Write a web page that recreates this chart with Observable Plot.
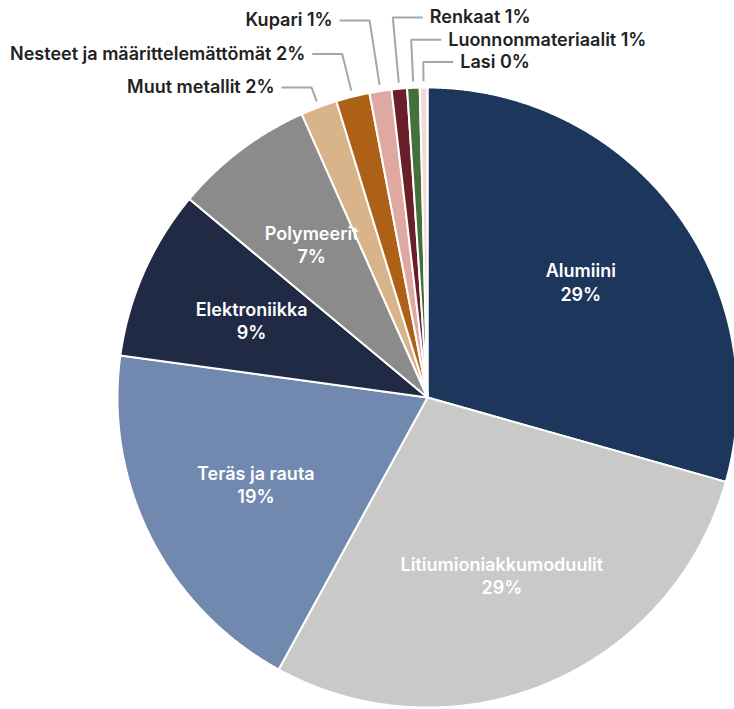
<!DOCTYPE html>
<html><head><meta charset="utf-8">
<script src="https://cdn.jsdelivr.net/npm/d3@7"></script>
<script src="https://cdn.jsdelivr.net/npm/@observablehq/plot@0.6"></script>
<style>html,body{margin:0;padding:0;background:#fff;overflow:hidden}#chart svg{display:block}</style>
</head><body><div id="chart"></div>
<script>
// ---- data ----
const categories = ["Alumiini", "Litiumioniakkumoduulit", "Teräs ja rauta", "Elektroniikka", "Polymeerit",
  "Muut metallit", "Nesteet ja määrittelemättömät", "Kupari", "Renkaat", "Luonnonmateriaalit", "Lasi"];
const values = [29.4, 28.6, 19.2, 8.9, 7.3, 1.9, 1.75, 1.15, 0.8, 0.65, 0.4];
const colors = ["#1d365b", "#c9c9c7", "#7189ae", "#212a45", "#8b8b8b",
  "#d9b48b", "#ad6117", "#dfa8a0", "#6a1e2a", "#44703c", "#f1d9d5"];

// ---- layout ----
const W = 734, H = 709, R = 310, CX = 427, CY = 397;
const FONT = "Inter, 'Noto Sans', sans-serif";
const FS = 18;

const arcs = d3.pie().sort(null).value(d => d.value).startAngle(0).endAngle(2 * Math.PI)(
  categories.map((c, i) => ({cat: c, value: values[i]}))
);
const pt = (a, r) => [r * Math.sin(a), r * Math.cos(a)];

// slice polygons (unit radius)
const sliceRows = [];
arcs.forEach(a => {
  sliceRows.push({cat: a.data.cat, x: 0, y: 0});
  const n = Math.max(2, Math.ceil((a.endAngle - a.startAngle) / 0.005));
  for (let k = 0; k <= n; k++) {
    const t = a.startAngle + (a.endAngle - a.startAngle) * k / n;
    const [x, y] = pt(t, 1);
    sliceRows.push({cat: a.data.cat, x, y});
  }
});

// inside labels
const big = arcs.filter(a => a.data.value >= 5);
const inside = big.map(a => {
  const [x, y] = pt((a.startAngle + a.endAngle) / 2, 0.62);
  return {x, y, text: `${a.data.cat}\n${Math.round(a.data.value)}%`};
});

// outside labels with leader lines
const small = arcs.filter(a => a.data.value < 5);
const half = Math.ceil(small.length / 2);
const seg = 30 / R, gap = 7 / R;
const leaderRows = [], outside = [];
small.forEach((a, i) => {
  const left = i < half;
  const k = left ? i : i - half;
  const ly = left ? 1.0 + 0.108 * k : 1.226 - 0.072 * k;
  const m = (a.startAngle + a.endAngle) / 2;
  const [sx, sy] = pt(m, 1.02);
  const t = ly / Math.cos(m);
  const [ex] = pt(m, t);
  const endX = left ? ex - seg : ex + seg;
  leaderRows.push({id: a.data.cat, x: sx, y: sy}, {id: a.data.cat, x: ex, y: ly}, {id: a.data.cat, x: endX, y: ly});
  outside.push({x: left ? endX - gap : endX + gap, y: ly, anchor: left ? "end" : "start",
    text: `${a.data.cat} ${Math.round(a.data.value)}%`});
});

const chart = Plot.plot({
  width: W, height: H, margin: 0,
  style: {fontFamily: FONT, background: "#fff"},
  x: {domain: [-CX / R, (W - CX) / R], axis: null},
  y: {domain: [-(H - CY) / R, CY / R], axis: null},
  color: {domain: categories, range: colors},
  marks: [
    Plot.line(sliceRows, {x: "x", y: "y", z: "cat", fill: "cat", stroke: "white", strokeWidth: 2,
      strokeLinejoin: "miter", curve: "linear-closed"}),
    Plot.line(leaderRows, {x: "x", y: "y", z: "id", stroke: "#a6a6a6", strokeWidth: 2,
      strokeLinejoin: "miter", strokeLinecap: "butt"}),
    Plot.text(inside, {x: "x", y: "y", text: "text", fill: "white", fontSize: FS, fontWeight: 600,
      lineHeight: 1.3, fontFamily: FONT}),
    Plot.text(outside.filter(d => d.anchor === "end"), {x: "x", y: "y", text: "text", textAnchor: "end",
      fill: "#222", fontSize: FS, fontWeight: 600, fontFamily: FONT}),
    Plot.text(outside.filter(d => d.anchor === "start"), {x: "x", y: "y", text: "text", textAnchor: "start",
      fill: "#222", fontSize: FS, fontWeight: 600, fontFamily: FONT})
  ]
});
document.getElementById("chart").appendChild(chart);
</script>
</body></html>
